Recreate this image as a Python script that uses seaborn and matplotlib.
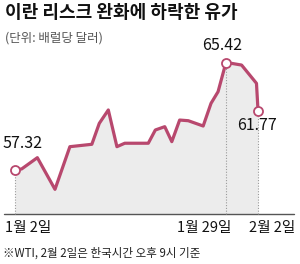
import pandas as pd
import matplotlib
matplotlib.use('Agg')
import matplotlib.pyplot as plt
import seaborn as sns

# WTI price, days counted from Jan 2
days = [0, 0.85, 2.85, 5.1, 7, 9.8, 10.75, 11.9, 13, 14, 17, 17.9, 19.1, 20,
        21, 22.1, 24, 25, 25.9, 26.9, 27.6, 28.9, 30.8, 31]
prices = [57.32, 57.40, 58.25, 55.86, 59.08, 59.26, 60.84, 61.85, 59.08, 59.34,
          59.34, 60.34, 60.59, 59.46, 61.09, 61.04, 60.64, 62.35, 63.23, 65.42,
          65.37, 65.24, 63.86, 61.77]

marked_days = [0, 26.9, 31]
marked_prices = [57.32, 65.42, 61.77]
marked_labels = ['57.32', '65.42', '61.77']

tick_days = [0, 26.9, 31]
tick_labels = ['1월 2일', '1월 29일', '2월 2일']

title = '이란 리스크 완화에 하락한 유가'
subtitle = '(단위: 배럴당 달러)'
footnote = '※WTI, 2월 2일은 한국시간 오후 9시 기준'

df = pd.DataFrame({'day': days, 'price': prices})

sns.set_theme(style='white')
plt.rcParams['font.family'] = ['Noto Sans CJK KR', 'DejaVu Sans']

LINE = '#b8486e'
FILL = '#ececec'

fig = plt.figure(figsize=(3.0, 2.64), dpi=100)
ax = fig.add_axes([0, 0, 1, 1])
ax.set_xlim(-1.913, 36.35)
ax.set_ylim(50.226, 70.15)
ax.axis('off')

base = 54.0
ax.fill_between(df['day'], df['price'], base, color=FILL, lw=0, zorder=1)
ax.axhline(base, xmin=4 / 300, xmax=294 / 300, color='#555555', lw=1.0, zorder=2)

for d, p in zip(marked_days, marked_prices):
    ax.plot([d, d], [base, p], color='#9a9a9a', ls=(0, (1, 1.5)), lw=0.8, zorder=2)

sns.lineplot(data=df, x='day', y='price', ax=ax, color=LINE, lw=2.3,
             zorder=3, legend=False)
ax.plot(marked_days, marked_prices, 'o', ms=6.5, mfc='white', mec=LINE,
        mew=1.3, zorder=4)

# value labels
label_offsets = [(8, 27), (-3.5, 17), (-1, -14)]
for d, p, s, off in zip(marked_days, marked_prices, marked_labels, label_offsets):
    ax.annotate(s, xy=(d, p), xytext=off, textcoords='offset pixels',
                ha='center', va='center', fontsize=11.5, color='#111111')

# date labels under the baseline
tick_offsets = [(-10, -14.5, 'left'), (5, -14.5, 'right'), (37, -14.5, 'right')]
for d, s, (dx, dy, ha) in zip(tick_days, tick_labels, tick_offsets):
    ax.annotate(s, xy=(d, base), xytext=(dx, dy), textcoords='offset pixels',
                ha=ha, va='center', fontsize=10.5, color='#111111')

fig.text(5 / 300, 1 - 13 / 264, title, ha='left', va='center',
         fontsize=13, fontweight='bold', color='#111111')
fig.text(5 / 300, 1 - 38 / 264, subtitle, ha='left', va='center',
         fontsize=9, color='#555555')
fig.text(3 / 300, 1 - 253 / 264, footnote, ha='left', va='center',
         fontsize=8.3, color='#222222')

fig.savefig('out.png', dpi=100)
